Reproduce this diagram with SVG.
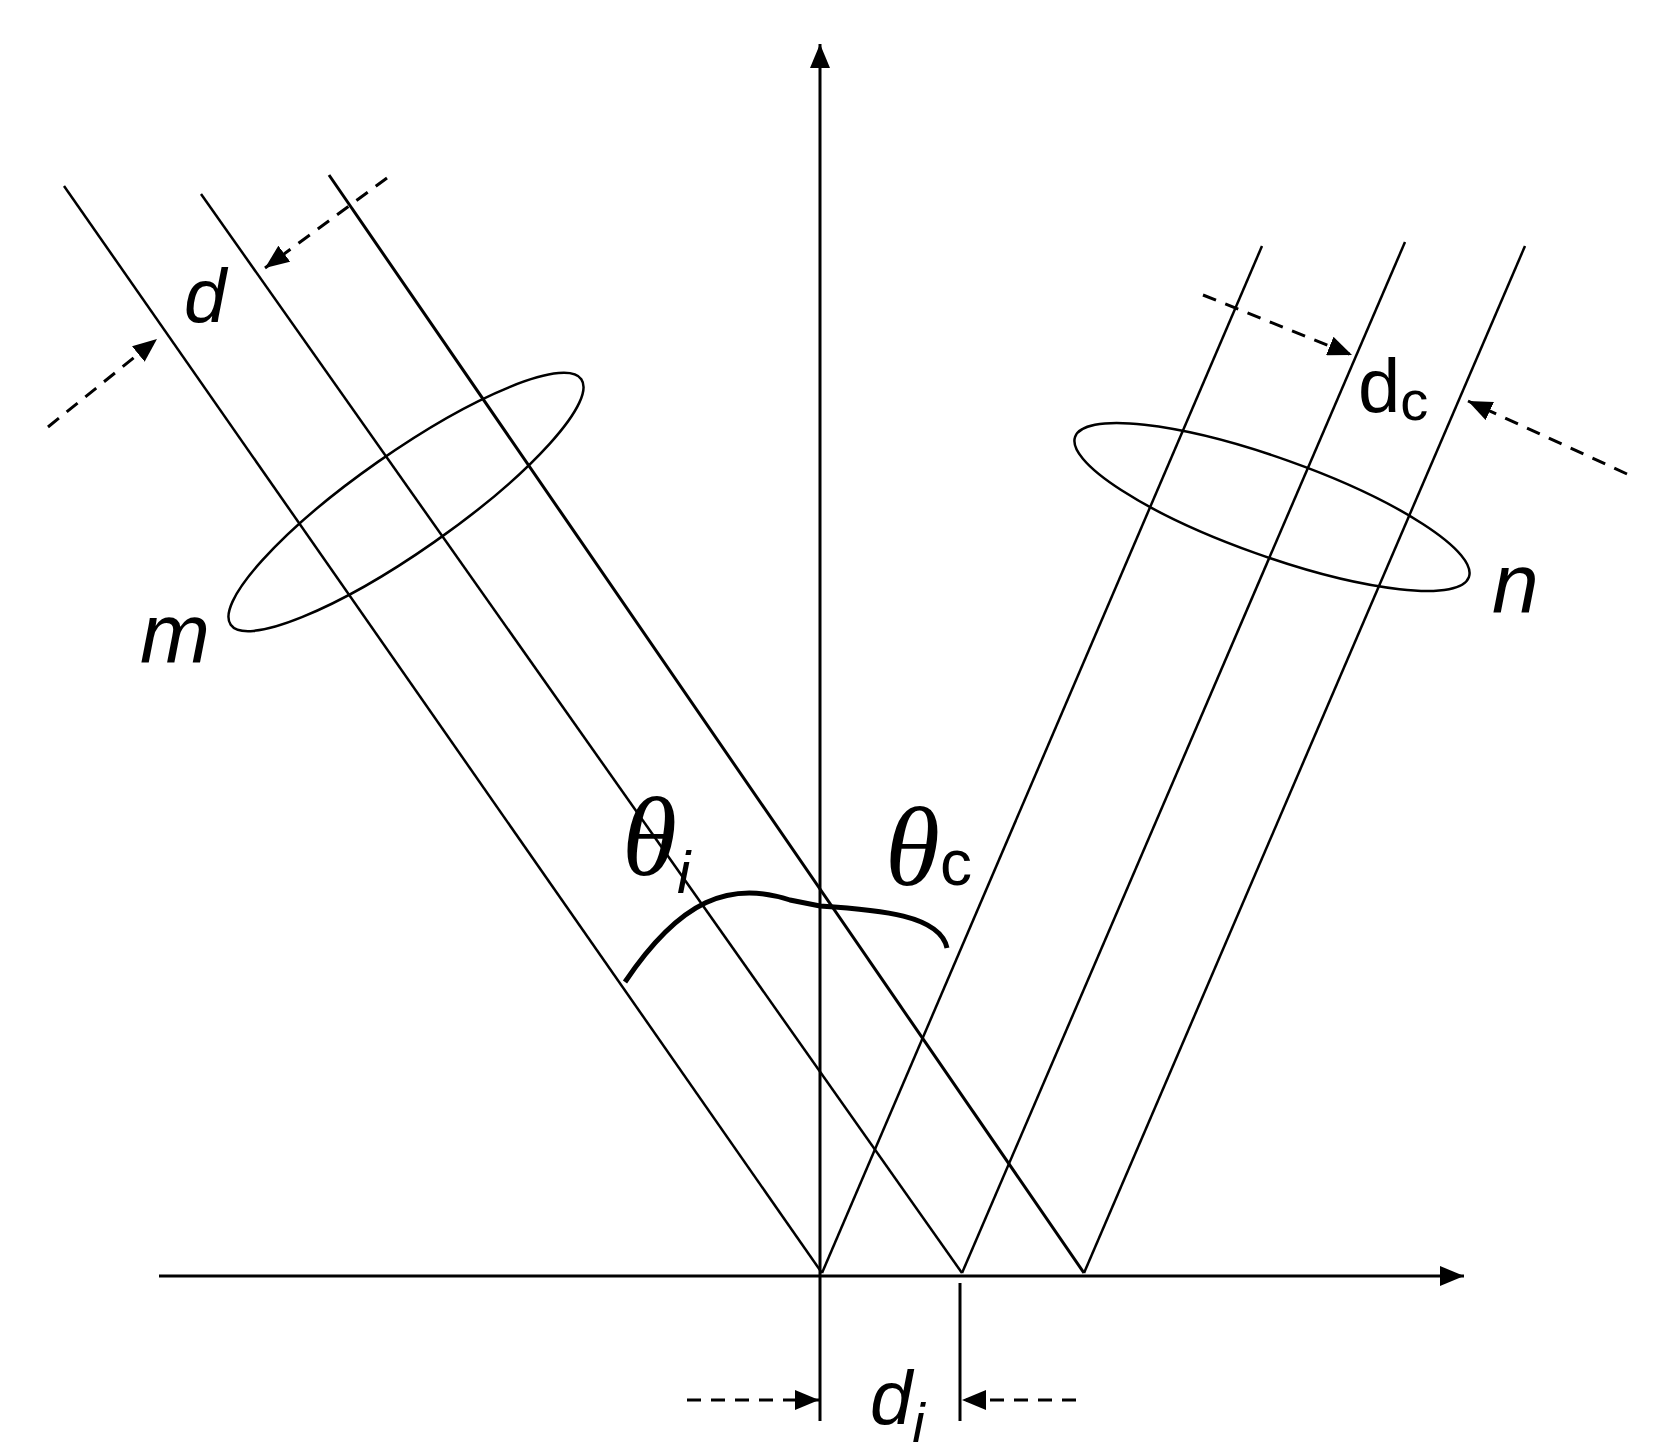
<svg xmlns="http://www.w3.org/2000/svg" width="1655" height="1451" viewBox="0 0 1655 1451">
<style>
.l{stroke:#000;stroke-width:2.5;fill:none}
.a{stroke:#000;stroke-width:3;fill:none}
.d{stroke:#000;stroke-width:3;fill:none;stroke-dasharray:14 10}
.t{font-family:"Liberation Sans",Arial,sans-serif;font-style:italic;fill:#000}
.g{font-family:"Liberation Serif","Times New Roman",serif;font-style:italic;fill:#000}
</style>
<defs>
<marker id="ar" viewBox="0 0 24 20" refX="24" refY="10" markerWidth="24" markerHeight="20" orient="auto" markerUnits="userSpaceOnUse">
<path d="M0,0 L24,10 L0,20 z" fill="#000"/>
</marker>
</defs>
<rect width="1655" height="1451" fill="#fff"/>
<g id="connectors">
<line class="a" x1="820" y1="1421" x2="820" y2="44" marker-end="url(#ar)"/>
<line class="a" x1="159" y1="1276" x2="1464" y2="1276" marker-end="url(#ar)"/>
<line class="a" x1="960" y1="1283" x2="960" y2="1421"/>
<line class="l" x1="64" y1="186" x2="822" y2="1273"/>
<line class="l" x1="201" y1="194" x2="962" y2="1273"/>
<line class="a" x1="329" y1="175" x2="1084" y2="1273"/>
<line class="l" x1="822" y1="1273" x2="1262" y2="246"/>
<line class="l" x1="962" y1="1273" x2="1405" y2="242"/>
<line class="l" x1="1084" y1="1273" x2="1525" y2="246"/>
<line class="d" x1="687" y1="1400" x2="819" y2="1400" marker-end="url(#ar)"/>
<line class="d" x1="1076" y1="1400" x2="962" y2="1400" marker-end="url(#ar)"/>
<line class="d" x1="387" y1="178" x2="265" y2="268" marker-end="url(#ar)"/>
<line class="d" x1="48" y1="427" x2="157" y2="339" marker-end="url(#ar)"/>
<line class="d" x1="1203" y1="295" x2="1352" y2="355" marker-end="url(#ar)"/>
<line class="d" x1="1627" y1="474" x2="1468" y2="401" marker-end="url(#ar)"/>
<path d="M625,982 C680,900 730,880 790,900 L820,906 C880,910 940,915 947,948" stroke="#000" stroke-width="5" fill="none"/>
</g>
<g id="ellipse-m"><ellipse class="l" cx="406" cy="502" rx="214" ry="49" transform="rotate(-35 406 502)"/></g>
<g id="ellipse-n"><ellipse class="l" cx="1272" cy="507" rx="209" ry="49" transform="rotate(19.6 1272 507)"/></g>
<g id="labels">
<text class="t" x="140" y="662" font-size="84">m</text>
<text class="t" x="1492" y="612" font-size="84">n</text>
<text class="t" x="184" y="322" font-size="76">d</text>
<text x="1358" y="412" font-size="76" font-family="Liberation Sans,Arial,sans-serif">d<tspan font-size="56" dy="8">c</tspan></text>
<text class="t" x="870" y="1424" font-size="76">d<tspan font-size="56" dy="18">i</tspan></text>
<text class="g" x="622" y="875" font-size="112">θ<tspan class="t" font-size="60" dy="18">i</tspan></text>
<text class="g" x="885" y="885" font-size="112">θ<tspan font-family="Liberation Sans,Arial,sans-serif" font-style="normal" font-size="64">c</tspan></text>
</g>
</svg>
